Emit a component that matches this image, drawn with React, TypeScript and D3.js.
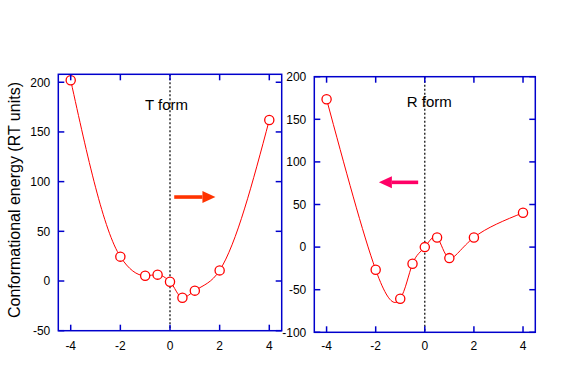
import React from "react";
import * as d3 from "d3";

const xTicks = [-4, -2, 0, 2, 4];

const tX = [-4, -2, -1, -0.5, 0, 0.5, 1, 2, 4];
const tY = [202, 24.5, 5.3, 6.4, -0.7, -16.8, -9.7, 10.7, 162];
const tYTicks = [-50, 0, 50, 100, 150, 200];

const rX = [-4, -2, -1, -0.5, 0, 0.5, 1, 2, 4];
const rY = [173.5, -26.6, -60.6, -19.6, 0, 11.3, -12.9, 11.3, 40.3];
const rYTicks = [-100, -50, 0, 50, 100, 150, 200];

const FONT = "Arial, 'Liberation Sans', sans-serif";
const BLUE = "#0000cc";

type PanelProps = {
  xs: number[];
  ys: number[];
  yDomain: [number, number];
  yTicks: number[];
  left: number;
  right: number;
  top: number;
  bottom: number;
  label: string;
  labelX: number;
  labelY: number;
  curve: d3.CurveFactory;
  arrow: { x0: number; x1: number; y: number; color: string };
};

function Panel(p: PanelProps) {
  const x = d3.scaleLinear().domain([-4.5, 4.5]).range([p.left, p.right]);
  const y = d3.scaleLinear().domain(p.yDomain).range([p.bottom, p.top]);
  const pts: [number, number][] = p.xs.map((v, i) => [v, p.ys[i]]);
  const line = d3
    .line<[number, number]>()
    .x((d) => x(d[0]))
    .y((d) => y(d[1]))
    .curve(p.curve);
  const tl = 6;
  const ax0 = x(p.arrow.x0);
  const ax1 = x(p.arrow.x1);
  const ay = y(p.arrow.y);
  const dir = Math.sign(ax1 - ax0);
  const headLen = 13;
  const headBase = ax1 - dir * headLen;
  return (
    <g>
      <line x1={x(0)} x2={x(0)} y1={p.top} y2={p.bottom} stroke="#000" strokeWidth={1.2} strokeDasharray="2,2" />
      <path d={line(pts) || ""} fill="none" stroke="#ff0000" strokeWidth={1} />
      {pts.map((d, i) => (
        <circle key={i} cx={x(d[0])} cy={y(d[1])} r={4.6} fill="#fff" stroke="#ff0000" strokeWidth={1.3} />
      ))}
      <rect x={p.left} y={p.top} width={p.right - p.left} height={p.bottom - p.top} fill="none" stroke={BLUE} strokeWidth={1.5} />
      {xTicks.map((t) => (
        <g key={"x" + t}>
          <line x1={x(t)} x2={x(t)} y1={p.bottom} y2={p.bottom - tl} stroke={BLUE} strokeWidth={1.5} />
          <line x1={x(t)} x2={x(t)} y1={p.top} y2={p.top + tl} stroke={BLUE} strokeWidth={1.5} />
          <text x={x(t)} y={350} textAnchor="middle" fontSize={12} fontFamily={FONT} fill="#000">
            {t}
          </text>
        </g>
      ))}
      {p.yTicks.map((t) => (
        <g key={"y" + t}>
          <line x1={p.left} x2={p.left + tl} y1={y(t)} y2={y(t)} stroke={BLUE} strokeWidth={1.5} />
          <line x1={p.right} x2={p.right - tl} y1={y(t)} y2={y(t)} stroke={BLUE} strokeWidth={1.5} />
          <text x={p.left - 8} y={y(t) + 4.3} textAnchor="end" fontSize={12} fontFamily={FONT} fill="#000">
            {t}
          </text>
        </g>
      ))}
      <text x={p.labelX} y={p.labelY} textAnchor="middle" fontSize={15} fontFamily={FONT} fill="#000">
        {p.label}
      </text>
      <line x1={ax0} x2={headBase} y1={ay} y2={ay} stroke={p.arrow.color} strokeWidth={3.6} />
      <path
        d={`M${ax1},${ay} L${headBase},${ay - 6} L${headBase},${ay + 6} Z`}
        fill={p.arrow.color}
      />
    </g>
  );
}

export default function App() {
  return (
    <svg
      width={579}
      height={382}
      style={{ position: "absolute", left: 0, top: 0, background: "#fff" }}
    >
      <rect width={579} height={382} fill="#fff" />
      <Panel
        xs={tX}
        ys={tY}
        yDomain={[-50, 208]}
        yTicks={tYTicks}
        left={58.3}
        right={281.7}
        top={74.3}
        bottom={330.7}
        label="T form"
        labelX={166.5}
        labelY={110}
        curve={d3.curveMonotoneX}
        arrow={{ x0: 0.17, x1: 1.83, y: 84.5, color: "#ff3300" }}
      />
      <Panel
        xs={rX}
        ys={rY}
        yDomain={[-100, 200]}
        yTicks={rYTicks}
        left={314.3}
        right={535.3}
        top={76.7}
        bottom={332.3}
        label="R form"
        labelX={429.3}
        labelY={107}
        curve={d3.curveNatural}
        arrow={{ x0: -0.27, x1: -1.87, y: 76, color: "#ff0066" }}
      />
      <text
        transform="translate(20,200) rotate(-90)"
        textAnchor="middle"
        fontSize={16}
        fontFamily={FONT}
        fill="#000"
      >
        Conformational energy (RT units)
      </text>
    </svg>
  );
}
